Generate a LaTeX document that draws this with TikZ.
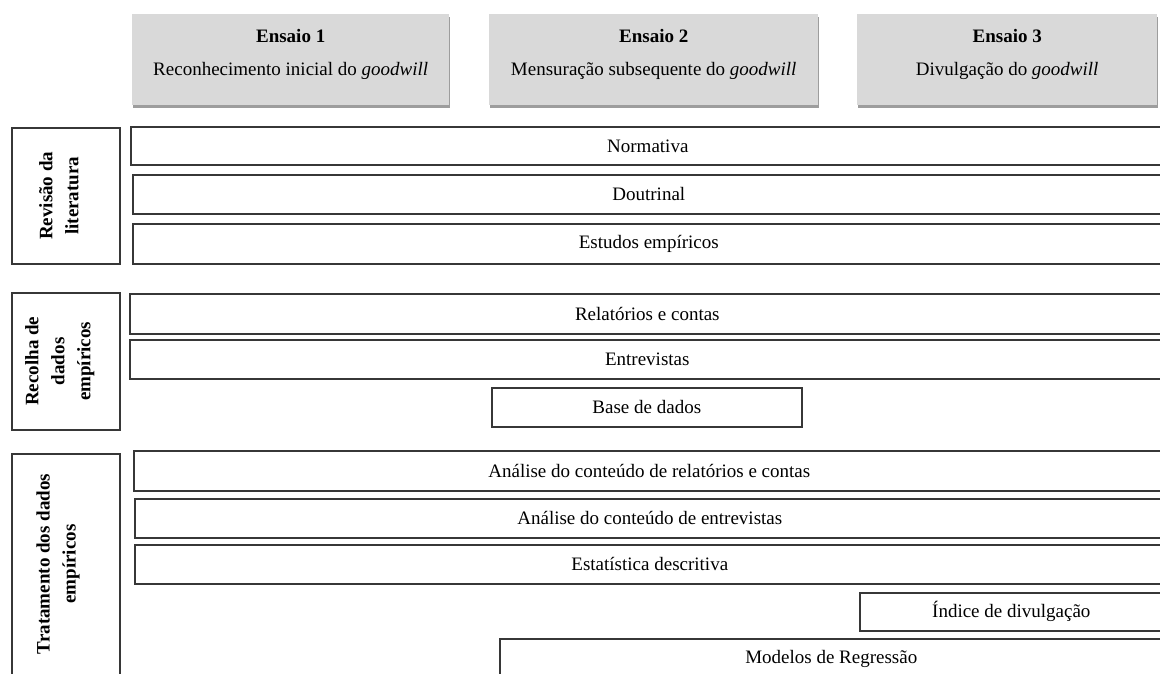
\documentclass[tikz,border=0pt]{standalone}
\usepackage{fontspec}
\setmainfont{Liberation Serif}
\usetikzlibrary{shadows,calc}
\definecolor{ensgray}{RGB}{217,217,217}
\definecolor{linegray}{RGB}{55,55,55}
\tikzset{
  rowbox/.style={draw=linegray, line width=1.6pt, anchor=north west, inner sep=0pt,
    font=\fontsize{19}{22}\selectfont},
  sidebox/.style={draw=linegray, line width=1.6pt, anchor=north west, inner sep=0pt,
    minimum width=108pt},
  sidetext/.style={rotate=90, align=center, font=\fontsize{19}{26}\selectfont\bfseries, inner sep=0pt},
  ensbox/.style={fill=ensgray, anchor=north west, inner sep=0pt, minimum height=91pt,
    drop shadow={shadow xshift=1pt, shadow yshift=-2.5pt, opacity=0.55, fill=black!70}},
  enstitle/.style={font=\fontsize{19}{22}\selectfont\bfseries, inner sep=0pt},
  enssub/.style={font=\fontsize{19}{22}\selectfont, inner sep=0pt},
}
\begin{document}
\begin{tikzpicture}[x=1pt,y=-1pt]
\useasboundingbox (0,0) rectangle (1160,673);
\clip (0,0) rectangle (1160,673);

% Ensaio boxes
\node[ensbox, minimum width=317pt] (e1) at (132,14) {};
\node[enstitle] (e1t) at ($(e1.north)+(0,22)$) {Ensaio 1};
\node[enssub] (e1s) at ($(e1.north)+(0,57)$) {Reconhecimento inicial do \textit{goodwill}};

\node[ensbox, minimum width=329pt] (e2) at (489,14) {};
\node[enstitle] (e2t) at ($(e2.north)+(0,22)$) {Ensaio 2};
\node[enssub] (e2s) at ($(e2.north)+(0,57)$) {Mensuração subsequente do \textit{goodwill}};

\node[ensbox, minimum width=300pt] (e3) at (857,14) {};
\node[enstitle] (e3t) at ($(e3.north)+(0,22)$) {Ensaio 3};
\node[enssub] (e3s) at ($(e3.north)+(0,57)$) {Divulgação do \textit{goodwill}};

% Left category boxes
\node[sidebox, minimum height=136pt] (rev) at (11,127) {};
\node[sidetext] (revt) at ($(rev.center)+(-7,0)$) {Revisão da\\literatura};
\node[sidebox, minimum height=137pt] (rec) at (11,292) {};
\node[sidetext] (rect) at ($(rec.center)+(-6,0)$) {Recolha de\\dados\\empíricos};
\node[sidebox, minimum height=240pt] (trat) at (11,453) {};
\node[sidetext] (tratt) at (58,564) {Tratamento dos dados\\empíricos};

% Revisão da literatura rows
\node[rowbox, minimum width=1034pt, minimum height=38pt] (norm) at (130,126) {Normativa};
\node[rowbox, minimum width=1032pt, minimum height=39pt] (dout) at (132,174) {Doutrinal};
\node[rowbox, minimum width=1032pt, minimum height=40pt] (estud) at (132,223) {Estudos empíricos};

% Recolha rows
\node[rowbox, minimum width=1035pt, minimum height=40pt] (rel) at (129,293) {Relatórios e contas};
\node[rowbox, minimum width=1035pt, minimum height=39pt] (entr) at (129,339) {Entrevistas};
\node[rowbox, minimum width=310pt, minimum height=39pt] (base) at (491,387) {Base de dados};

% Tratamento rows
\node[rowbox, minimum width=1031pt, minimum height=40pt] (acr) at (133,450) {Análise do conteúdo de relatórios e contas};
\node[rowbox, minimum width=1030pt, minimum height=39pt] (ace) at (134,498) {Análise do conteúdo de entrevistas};
\node[rowbox, minimum width=1030pt, minimum height=39pt] (est) at (134,544) {Estatística descritiva};
\node[rowbox, minimum width=303pt, minimum height=38pt] (ind) at (859,592) {Índice de divulgação};
\node[rowbox, minimum width=663pt, minimum height=40pt] (mod) at (499,638) {Modelos de Regressão};
\end{tikzpicture}
\end{document}
